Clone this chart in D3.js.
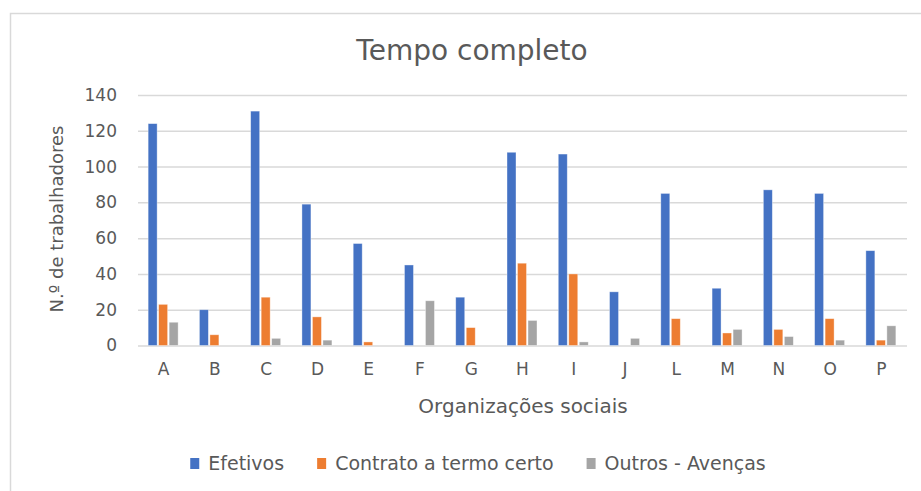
<!DOCTYPE html>
<html>
<head>
<meta charset="utf-8">
<script src="https://cdn.jsdelivr.net/npm/d3@7"></script>
<style>
    body { margin: 0; background: #fff; }
    text { font-family: 'DejaVu Sans', sans-serif; fill: #595959; }
    .grid line { stroke: #d9d9d9; stroke-width: 1.5; }
</style>
</head>
<body>
<div class="chart"></div>
<script>
const width = 921;
const height = 491;
const margin = { left: 138, right: 14, top: 95, bottom: 145 };

// data
const categories = ['A', 'B', 'C', 'D', 'E', 'F', 'G', 'H', 'I', 'J', 'L', 'M', 'N', 'O', 'P'];
const seriesNames = ['Efetivos', 'Contrato a termo certo', 'Outros - Avenças'];
const efetivos = [124, 20, 131, 79, 57, 45, 27, 108, 107, 30, 85, 32, 87, 85, 53];
const contrato = [23, 6, 27, 16, 2, 0, 10, 46, 40, 0, 15, 7, 9, 15, 3];
const outros = [13, 0, 4, 3, 0, 25, 0, 14, 2, 4, 0, 9, 5, 3, 11];
const yTicks = [0, 20, 40, 60, 80, 100, 120, 140];
const colors = ['#4472C4', '#ED7D31', '#A5A5A5'];

const svg = d3.select('.chart').append('svg')
    .attr('width', width)
    .attr('height', height);

// chart frame
svg.append('rect')
    .attr('x', 10.5).attr('y', 13.5)
    .attr('width', width + 20).attr('height', height + 20)
    .attr('fill', 'none')
    .attr('stroke', '#d9d9d9')
    .attr('stroke-width', 1.5);

const rows = categories.map((c, i) => ({ cat: c, values: [efetivos[i], contrato[i], outros[i]] }));

/*      Scales      */
const xScale = d3.scaleBand()
    .domain(categories)
    .range([margin.left, width - margin.right]);
const groupW = 31.5;
const x1 = d3.scaleBand()
    .domain(d3.range(seriesNames.length))
    .range([(xScale.bandwidth() - groupW) / 2, (xScale.bandwidth() + groupW) / 2]);
const yScale = d3.scaleLinear()
    .domain([0, 140])
    .range([height - margin.bottom - 0.5, margin.top]);

/*      Gridlines + y labels      */
const yAxis = svg.append('g')
    .attr('class', 'grid')
    .attr('transform', `translate(${margin.left},0)`)
    .call(d3.axisLeft(yScale).tickValues(yTicks)
        .tickSize(-(width - margin.left - margin.right))
        .tickPadding(21));
yAxis.select('.domain').remove();
yAxis.selectAll('text')
    .style('font-size', '17px')
    .attr('fill', '#595959');

/*      x labels      */
const xAxis = svg.append('g')
    .attr('transform', `translate(0,${yScale(0)})`)
    .call(d3.axisBottom(xScale).tickSize(0).tickPadding(17));
xAxis.select('.domain').remove();
xAxis.selectAll('text')
    .style('font-size', '17px')
    .attr('fill', '#595959');

/*      Bars      */
const groups = svg.selectAll('.cat')
    .data(rows)
    .enter()
    .append('g')
    .attr('class', 'cat')
    .attr('transform', d => `translate(${xScale(d.cat)},0)`);
groups.selectAll('rect')
    .data(d => d.values.map((v, i) => ({ v: v, i: i })))
    .enter()
    .append('rect')
    .attr('x', d => x1(d.i) + 0.25)
    .attr('y', d => yScale(d.v))
    .attr('width', x1.bandwidth() - 1.5)
    .attr('height', d => yScale(0) - yScale(d.v))
    .attr('fill', d => colors[d.i])
    .attr('stroke', '#fff')
    .attr('stroke-opacity', 0.5)
    .attr('stroke-width', 0.75);

/*      Titles      */
svg.append('text')
    .attr('x', 472).attr('y', 60)
    .attr('text-anchor', 'middle')
    .style('font-size', '28px')
    .text('Tempo completo');
svg.append('text')
    .attr('x', 523).attr('y', 413)
    .attr('text-anchor', 'middle')
    .style('font-size', '20px')
    .text('Organizações sociais');
svg.append('text')
    .attr('transform', 'translate(63,219) rotate(-90)')
    .attr('text-anchor', 'middle')
    .style('font-size', '18px')
    .text('N.º de trabalhadores');

/*      Legend      */
const legend = svg.append('g');
const legendGap = 33;
let lx = 0;
seriesNames.forEach((name, i) => {
    const item = legend.append('g').attr('transform', `translate(${lx},0)`);
    item.append('rect')
        .attr('x', 0).attr('y', 458)
        .attr('width', 9).attr('height', 11)
        .attr('fill', colors[i]);
    const t = item.append('text')
        .attr('x', 18).attr('y', 470)
        .style('font-size', '19px')
        .text(name);
    lx += 18 + t.node().getComputedTextLength() + legendGap;
});
const legendW = lx - legendGap;
legend.attr('transform', `translate(${478 - legendW / 2},0)`);
</script>
</body>
</html>
